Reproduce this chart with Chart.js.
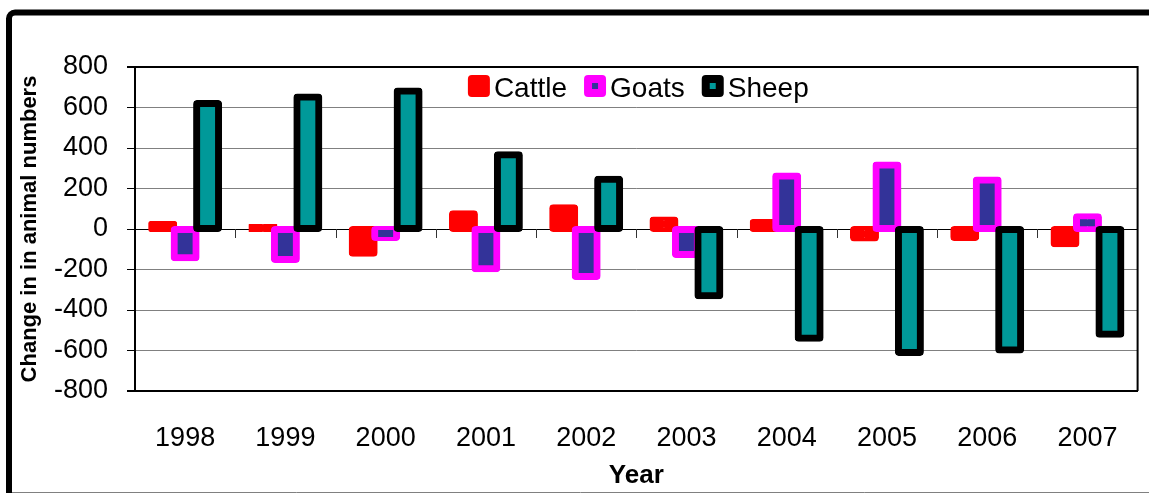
<!DOCTYPE html>
<html>
<head>
<meta charset="utf-8">
<script src="https://cdn.jsdelivr.net/npm/chart.js@4.4.0/dist/chart.umd.min.js"></script>
<style>
  html, body { margin: 0; padding: 0; background: #fff; }
  #wrap { width: 1149px; height: 493px; }
</style>
</head>
<body>
<div id="wrap"><canvas id="animalChart" width="1149" height="493"></canvas></div>
<script>
// values
const years = ["1998", "1999", "2000", "2001", "2002", "2003", "2004", "2005", "2006", "2007"];
const cattle = [22, 8, -120, 75, 105, 45, 32, -45, -42, -73];
const goats = [-142, -150, -42, -196, -235, -126, 262, 316, 242, 60];
const sheep = [620, 652, 681, 367, 246, -330, -540, -610, -598, -520];
const yTicks = [-800, -600, -400, -200, 0, 200, 400, 600, 800];

const FONT = 'Arial, "Liberation Sans", sans-serif';

// outer frame of the excel chart (thick black top + left, thin grey bottom)
const framePlugin = {
  id: "frame",
  beforeDraw(chart) {
    const ctx = chart.ctx;
    ctx.save();
    ctx.fillStyle = "#fff";
    ctx.fillRect(0, 0, chart.width, chart.height);
    ctx.strokeStyle = "#000";
    ctx.lineWidth = 6;
    const x = 9, y = 12.5, r = 6;
    ctx.beginPath();
    ctx.moveTo(x, chart.height + 5);
    ctx.lineTo(x, y + r);
    ctx.arcTo(x, y, x + r, y, r);
    ctx.lineTo(chart.width + 5, y);
    ctx.stroke();
    ctx.strokeStyle = "#808080";
    ctx.lineWidth = 1;
    ctx.beginPath();
    ctx.moveTo(12, chart.height - 0.5);
    ctx.lineTo(chart.width, chart.height - 0.5);
    ctx.stroke();
    ctx.restore();
  }
};

// plot box, ticks on the zero line, and series drawn left to right (sheep on top)
const plotPlugin = {
  id: "plotBox",
  beforeDatasetsDraw(chart) {
    const ctx = chart.ctx;
    const a = chart.chartArea;
    const xs = chart.scales.x, ys = chart.scales.y;
    ctx.save();
    ctx.strokeStyle = "#000";
    ctx.lineWidth = 2;
    ctx.beginPath();
    ctx.moveTo(a.left, a.top);
    ctx.lineTo(a.right, a.top);
    ctx.lineTo(a.right, a.bottom);
    ctx.stroke();

    const zeroY = Math.round(ys.getPixelForValue(0));
    ctx.lineWidth = 1;
    ctx.strokeStyle = "#333";
    ctx.beginPath();
    for (let i = 1; i < years.length; i++) {
      const px = Math.round(xs.getPixelForValue(i - 0.5)) + 0.5;
      ctx.moveTo(px, zeroY);
      ctx.lineTo(px, zeroY + 9);
    }
    ctx.stroke();
    ctx.restore();

    for (let i = 0; i < chart.data.datasets.length; i++) {
      chart.getDatasetMeta(i).controller.draw();
    }
    return false;
  }
};

function roundBox(ctx, x, y, w, h, r) {
  ctx.beginPath();
  ctx.moveTo(x + r, y);
  ctx.lineTo(x + w - r, y);
  ctx.arcTo(x + w, y, x + w, y + r, r);
  ctx.lineTo(x + w, y + h - r);
  ctx.arcTo(x + w, y + h, x + w - r, y + h, r);
  ctx.lineTo(x + r, y + h);
  ctx.arcTo(x, y + h, x, y + h - r, r);
  ctx.lineTo(x, y + r);
  ctx.arcTo(x, y, x + r, y, r);
  ctx.closePath();
  ctx.fill();
}

// legend sits inside the plot area at the top
const legendPlugin = {
  id: "insideLegend",
  afterDraw(chart) {
    const ctx = chart.ctx;
    const a = chart.chartArea;
    const box = 22, gapText = 4, gapItem = 17, top = 75;
    ctx.save();
    ctx.font = "28px " + FONT;
    ctx.textBaseline = "alphabetic";
    ctx.textAlign = "left";
    const ds = chart.data.datasets;
    const widths = ds.map(d => ctx.measureText(d.label).width);
    let total = 0;
    widths.forEach(w => total += box + gapText + w);
    total += gapItem * (ds.length - 1);
    let x = (a.left + a.right) / 2 - total / 2 + 2;
    ds.forEach((d, i) => {
      ctx.fillStyle = d.borderColor;
      roundBox(ctx, x, top, box, box, 4);
      if (d.backgroundColor !== d.borderColor) {
        ctx.fillStyle = d.backgroundColor;
        ctx.fillRect(x + 8, top + 8, box - 16, box - 16);
      }
      ctx.fillStyle = "#000";
      ctx.fillText(d.label, x + box + gapText, top + 22);
      x += box + gapText + widths[i] + gapItem;
    });
    ctx.restore();
  }
};

const barStyle = {
  borderWidth: 7,
  borderSkipped: false,
  borderRadius: 4,
  inflateAmount: 3.5,
  categoryPercentage: 0.672,
  barPercentage: 0.978
};

new Chart(document.getElementById("animalChart"), {
  type: "bar",
  data: {
    labels: years,
    datasets: [
      Object.assign({ label: "Cattle", data: cattle, backgroundColor: "#FF0000", borderColor: "#FF0000" }, barStyle),
      Object.assign({ label: "Goats", data: goats, backgroundColor: "#333399", borderColor: "#FF00FF" }, barStyle),
      Object.assign({ label: "Sheep", data: sheep, backgroundColor: "#009999", borderColor: "#000000" }, barStyle)
    ]
  },
  options: {
    responsive: false,
    animation: false,
    layout: { padding: { top: 67, right: 10, left: 0, bottom: 0 } },
    plugins: {
      legend: { display: false },
      tooltip: { enabled: false }
    },
    scales: {
      x: {
        afterFit: s => { s.height = 102; },
        grid: { display: true, drawOnChartArea: false, drawTicks: false },
        border: { display: true, color: "#000", width: 2 },
        ticks: {
          color: "#000",
          font: { family: FONT, size: 27 },
          padding: 31,
          maxRotation: 0,
          autoSkip: false
        },
        title: {
          display: true,
          text: "Year",
          color: "#000",
          font: { family: FONT, size: 26, weight: "bold" },
          padding: { top: 0, bottom: 2 }
        }
      },
      y: {
        min: -800,
        max: 800,
        afterFit: s => { s.width = 135; },
        afterBuildTicks: s => { s.ticks = yTicks.map(v => ({ value: v })); },
        grid: {
          color: c => (c.tick && (c.tick.value === 0 || Math.abs(c.tick.value) === 800)) ? "#000" : "#808080",
          lineWidth: c => (c.tick && Math.abs(c.tick.value) === 800) ? 2 : 1,
          tickColor: "#000",
          tickLength: 8
        },
        border: { display: true, color: "#000", width: 2 },
        ticks: {
          color: "#000",
          font: { family: FONT, size: 27 },
          padding: 19,
          callback: v => String(v)
        },
        title: {
          display: true,
          text: "Change in in animal numbers",
          color: "#000",
          font: { family: FONT, size: 22, weight: "bold" },
          padding: { top: 17, bottom: 0 }
        }
      }
    }
  },
  plugins: [framePlugin, plotPlugin, legendPlugin]
});
</script>
</body>
</html>
